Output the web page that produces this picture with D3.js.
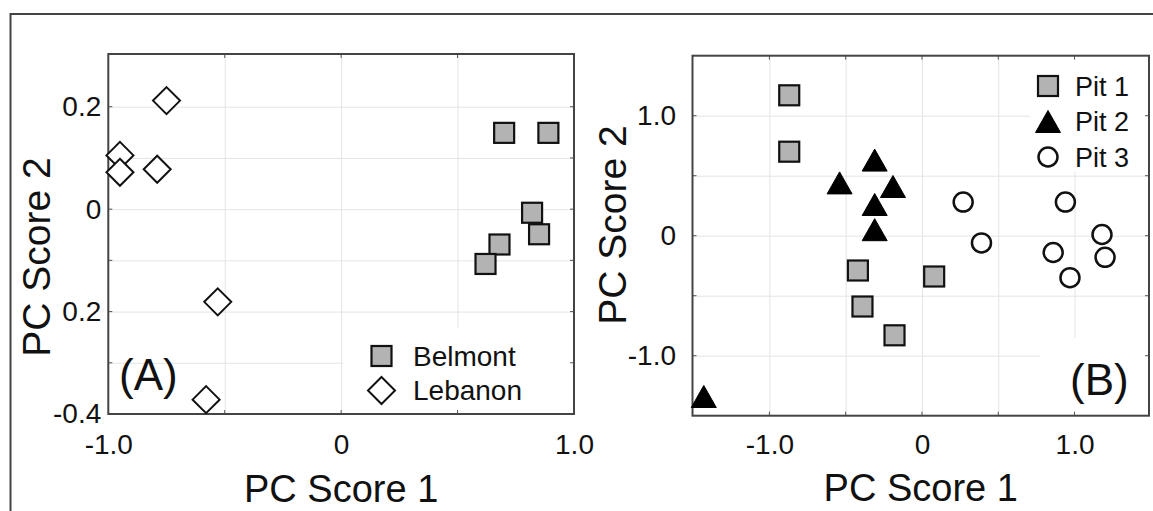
<!DOCTYPE html>
<html lang="en">
  <head>
    <meta charset="UTF-8" />
    <title>PC Scores</title>
    <script src="https://cdn.jsdelivr.net/npm/d3@7"></script>
    <style>
      body { margin: 0; background: #fff; }
      text { font-family: "Liberation Sans", Arial, sans-serif; fill: #111; }
    </style>
  </head>
  <body>
    <div id="chart"></div>
    <script>
      // ---- data ----
      // panel A
      const belmontX = [0.70, 0.89, 0.82, 0.85, 0.68, 0.62];
      const belmontY = [0.149, 0.149, -0.007, -0.049, -0.069, -0.107];
      const lebanonX = [-0.75, -0.95, -0.95, -0.79, -0.53, -0.58];
      const lebanonY = [0.212, 0.105, 0.072, 0.078, -0.181, -0.372];
      const aXTicks = [-1, 0, 1];
      const aXLabels = ["-1.0", "0", "1.0"];
      const aYTicks = [0.2, 0, -0.2, -0.4];
      const aYLabels = ["0.2", "0", "0.2", "-0.4"];
      const aXGrid = [-0.5, 0, 0.5];
      const aYGrid = [0.2, 0.1, 0, -0.1, -0.2, -0.3];

      // panel B
      const pit1X = [-0.87, -0.87, -0.42, -0.39, -0.18, 0.08];
      const pit1Y = [1.17, 0.70, -0.29, -0.59, -0.83, -0.34];
      const pit2X = [-0.31, -0.54, -0.19, -0.31, -0.31, -1.43];
      const pit2Y = [0.63, 0.44, 0.41, 0.26, 0.05, -1.34];
      const pit3X = [0.27, 0.39, 0.94, 1.18, 0.86, 1.20, 0.97];
      const pit3Y = [0.28, -0.06, 0.28, 0.01, -0.14, -0.18, -0.35];
      const bXTicks = [-1, 0, 1];
      const bXLabels = ["-1.0", "0", "1.0"];
      const bYTicks = [1, 0, -1];
      const bYLabels = ["1.0", "0", "-1.0"];
      const bXGrid = [-1, -0.5, 0, 0.5, 1];
      const bYGrid = [1, 0.5, 0, -0.5, -1];

      const W = 1153, H = 511;
      const svg = d3.select("#chart").append("svg")
        .attr("width", W).attr("height", H);

      // outer frame (top + left edges)
      svg.append("path")
        .attr("d", `M10.5,${H} L10.5,14 L${W},14`)
        .attr("fill", "none").attr("stroke", "#444").attr("stroke-width", 2);

      // marker helpers
      function square(g, cx, cy) {
        g.append("rect").attr("x", cx - 10).attr("y", cy - 10)
          .attr("width", 20).attr("height", 20)
          .attr("fill", "#b3b3b3").attr("stroke", "#111").attr("stroke-width", 2.2);
      }
      function diamond(g, cx, cy) {
        const r = 13.5;
        g.append("path")
          .attr("d", `M${cx},${cy - r} L${cx + r},${cy} L${cx},${cy + r} L${cx - r},${cy} Z`)
          .attr("fill", "#fff").attr("stroke", "#111").attr("stroke-width", 2);
      }
      function triangle(g, cx, cy) {
        g.append("path")
          .attr("d", `M${cx},${cy - 11} L${cx + 12.5},${cy + 11} L${cx - 12.5},${cy + 11} Z`)
          .attr("fill", "#000").attr("stroke", "#000").attr("stroke-width", 1);
      }
      function circle(g, cx, cy) {
        g.append("circle").attr("cx", cx).attr("cy", cy).attr("r", 9.5)
          .attr("fill", "#fff").attr("stroke", "#111").attr("stroke-width", 2.5);
      }

      function panel(o) {
        const x = d3.scaleLinear().domain(o.xDom).range([o.left, o.right]);
        const y = d3.scaleLinear().domain(o.yDom).range([o.bottom, o.top]);
        const g = svg.append("g");
        const w = o.right - o.left, h = o.bottom - o.top;

        // grid
        g.append("g").attr("transform", `translate(0,${o.bottom})`)
          .call(d3.axisBottom(x).tickValues(o.xGrid).tickSize(-h).tickFormat(""))
          .call(a => a.select(".domain").remove())
          .call(a => a.selectAll("line").attr("stroke", "#e4e4e4"));
        g.append("g").attr("transform", `translate(${o.left},0)`)
          .call(d3.axisLeft(y).tickValues(o.yGrid).tickSize(-w).tickFormat(""))
          .call(a => a.select(".domain").remove())
          .call(a => a.selectAll("line").attr("stroke", "#e4e4e4"));

        // white boxes behind legend / panel label
        o.boxes.forEach(b => {
          g.append("rect").attr("x", b[0]).attr("y", b[1])
            .attr("width", b[2] - b[0]).attr("height", b[3] - b[1]).attr("fill", "#fff");
        });

        // inner ticks on all four sides
        const tk = 4;
        const ticks = g.append("g").attr("stroke", "#555").attr("stroke-width", 1);
        o.xGrid.forEach(v => {
          ticks.append("line").attr("x1", x(v)).attr("x2", x(v)).attr("y1", o.bottom).attr("y2", o.bottom - tk);
          ticks.append("line").attr("x1", x(v)).attr("x2", x(v)).attr("y1", o.top).attr("y2", o.top + tk);
        });
        o.yGrid.forEach(v => {
          ticks.append("line").attr("y1", y(v)).attr("y2", y(v)).attr("x1", o.left).attr("x2", o.left + tk);
          ticks.append("line").attr("y1", y(v)).attr("y2", y(v)).attr("x1", o.right).attr("x2", o.right - tk);
        });

        // tick labels
        g.append("g").attr("transform", `translate(0,${o.bottom})`)
          .call(d3.axisBottom(x).tickValues(o.xTicks).tickSize(0).tickPadding(o.xPad)
            .tickFormat((d, i) => o.xLabels[i]))
          .call(a => a.select(".domain").remove())
          .call(a => a.selectAll("text").attr("font-size", 28).attr("fill", "#111")
            .style("font-family", "'Liberation Sans', Arial, sans-serif"));
        g.append("g").attr("transform", `translate(${o.left},0)`)
          .call(d3.axisLeft(y).tickValues(o.yTicks).tickSize(0).tickPadding(o.yPad)
            .tickFormat((d, i) => o.yLabels[i]))
          .call(a => a.select(".domain").remove())
          .call(a => a.selectAll("text").attr("font-size", 28).attr("fill", "#111")
            .style("font-family", "'Liberation Sans', Arial, sans-serif"));

        // plot frame
        g.append("rect").attr("x", o.left).attr("y", o.top)
          .attr("width", w).attr("height", h)
          .attr("fill", "none").attr("stroke", "#444").attr("stroke-width", 2);

        // axis titles
        g.append("text").attr("x", (o.left + o.right) / 2).attr("y", o.xTitleY)
          .attr("text-anchor", "middle").attr("font-size", 38).text("PC Score 1");
        g.append("text").attr("transform", `translate(${o.yTitleX},${o.yTitleMid}) rotate(-90)`)
          .attr("text-anchor", "middle").attr("font-size", 39).text("PC Score 2");

        // points
        const pts = g.append("g");
        o.series.forEach(s => {
          s.xs.forEach((v, i) => s.mark(pts, x(v), y(s.ys[i])));
        });

        // legend
        o.series.forEach((s, i) => {
          const ly = o.legend.y0 + i * o.legend.dy;
          s.mark(g, o.legend.x, ly);
          g.append("text").attr("x", o.legend.tx).attr("y", ly + o.legend.base)
            .attr("font-size", o.legend.fs).text(s.name);
        });

        // panel label
        g.append("text").attr("x", o.tag[0]).attr("y", o.tag[1])
          .attr("font-size", 44).text(o.tagText);
      }

      panel({
        left: 108.3, right: 574, top: 54, bottom: 414,
        xDom: [-1, 1], yDom: [-0.4, 0.303],
        xGrid: aXGrid, yGrid: aYGrid,
        xTicks: aXTicks, xLabels: aXLabels, yTicks: aYTicks, yLabels: aYLabels,
        xPad: 20, yPad: 7,
        xTitleY: 502, yTitleX: 50, yTitleMid: 257,
        boxes: [[343, 328, 573, 413]],
        series: [
          { name: "Belmont", xs: belmontX, ys: belmontY, mark: square },
          { name: "Lebanon", xs: lebanonX, ys: lebanonY, mark: diamond }
        ],
        legend: { x: 381.5, y0: 356, dy: 34.5, tx: 413, base: 9.5, fs: 28 },
        tag: [119, 390], tagText: "(A)"
      });

      panel({
        left: 692.5, right: 1149, top: 55.7, bottom: 415.7,
        xDom: [-1.504, 1.488], yDom: [-1.5, 1.5],
        xGrid: bXGrid, yGrid: bYGrid,
        xTicks: bXTicks, xLabels: bXLabels, yTicks: bYTicks, yLabels: bYLabels,
        xPad: 18, yPad: 16.5,
        xTitleY: 501, yTitleX: 626, yTitleMid: 225,
        boxes: [[1030, 56, 1149, 172], [1040, 338, 1149, 415]],
        series: [
          { name: "Pit 1", xs: pit1X, ys: pit1Y, mark: square },
          { name: "Pit 2", xs: pit2X, ys: pit2Y, mark: triangle },
          { name: "Pit 3", xs: pit3X, ys: pit3Y, mark: circle }
        ],
        legend: { x: 1048, y0: 86, dy: 35.5, tx: 1075, base: 9.5, fs: 27 },
        tag: [1070, 395], tagText: "(B)"
      });
    </script>
  </body>
</html>
